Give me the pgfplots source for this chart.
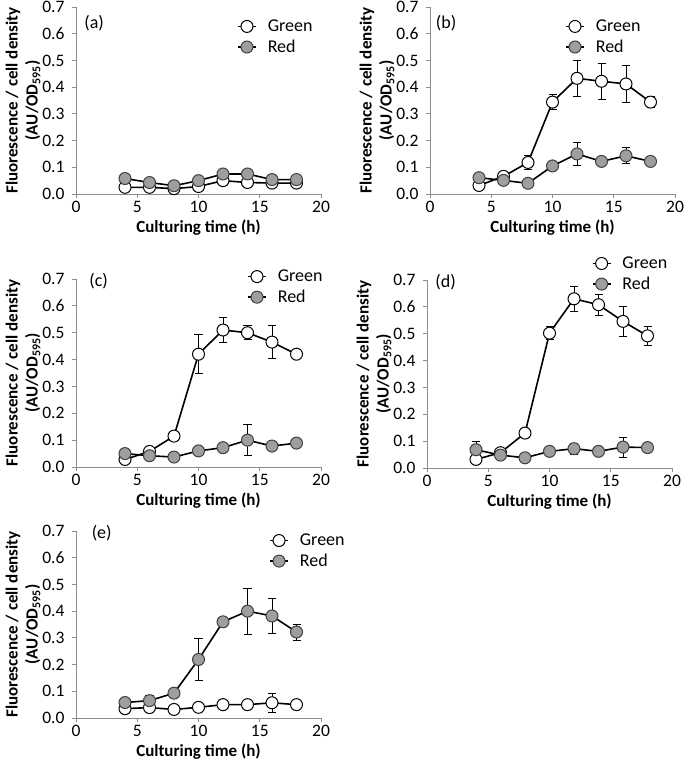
\documentclass[border=0pt]{standalone}
\usepackage{pgfplots}
\pgfplotsset{compat=1.18}
\usepackage{fontspec}
\setmainfont{Carlito}

\tikzset{tag/.style={anchor=west, font=\fontsize{18bp}{20bp}\selectfont}}
\pgfplotsset{
  panel/.style={
    scale only axis, width=245bp, height=187bp,
    anchor=south west,
    xmin=0, xmax=20, ymin=0, ymax=0.7,
    xtick={0,5,10,15,20},
    ytick={0,0.1,0.2,0.3,0.4,0.5,0.6,0.7},
    axis lines=left,
    axis line style={-, draw=black!45, line width=0.8bp},
    tick style={draw=black!45, line width=0.8bp},
    tick align=outside, major tick length=4bp,
    /pgf/number format/assume math mode=true,
    yticklabel style={xshift=-4bp, /pgf/number format/.cd, fixed, fixed zerofill, precision=1},
    xticklabel style={yshift=-1bp, inner ysep=2bp},
    ticklabel style={font=\fontsize{17.5bp}{19bp}\selectfont},
    xlabel={Culturing time (h)},
    ylabel={Fluorescence / cell density\\(AU/OD\textsubscript{595})},
    label style={font=\bfseries\fontsize{17bp}{20bp}\selectfont},
    xlabel style={at={(axis description cs:0.5,0)}, anchor=center, yshift=-34bp, inner ysep=1bp},
    ylabel style={at={(axis description cs:-0.216,0.5)}, anchor=center, align=center},
    legend style={draw=none, fill=none, anchor=west, inner sep=0pt, row sep=3bp,
      font=\fontsize{18bp}{20bp}\selectfont},
    legend cell align=left,
    legend image code/.code={\draw[##1, mark repeat=2, mark phase=2]
      plot coordinates {(0bp,0bp)(9bp,0bp)(18bp,0bp)};
      \path (27bp,0bp);},
    error bars/y dir=both, error bars/y explicit,
    error bars/error bar style={black, line width=0.8bp},
    error bars/error mark options={black, rotate=90, mark size=4bp, line width=0.8bp},
    clip=false,
  },
  green/.style={black, line width=1.6bp, mark=*, mark size=6bp,
    mark options={fill=white, draw=black, line width=1bp}},
  red/.style={black, line width=1.6bp, mark=*, mark size=6bp,
    mark options={fill=black!38, draw=black!75, line width=1bp}},
}

\begin{document}
\begin{tikzpicture}
\useasboundingbox (0,0) rectangle (685bp,-763bp);

% (a)
\begin{axis}[panel, at={(76bp,-194bp)}, legend style={at={(0.657,0.84)}}]
\addplot[green] coordinates {(4,0.025)(6,0.025)(8,0.02)(10,0.028)(12,0.05)(14,0.043)(16,0.041)(18,0.041)};
\addlegendentry{Green}
\addplot[red] coordinates {(4,0.058)(6,0.043)(8,0.031)(10,0.05)(12,0.075)(14,0.075)(16,0.054)(18,0.054)};
\addlegendentry{Red}
\node[tag] at (rel axis cs:0.02,0.914) {(a)};
\end{axis}

% (b)
\begin{axis}[panel, at={(430bp,-194bp)}, legend style={at={(0.551,0.84)}}]
\addplot[green] coordinates {(4,0.032) +- (0,0.005) (6,0.066) +- (0,0.008) (8,0.118) +- (0,0.026) (10,0.344) +- (0,0.027)
  (12,0.433) +- (0,0.067) (14,0.422) +- (0,0.068) (16,0.412) +- (0,0.07) (18,0.344) +- (0,0.02)};
\addlegendentry{Green}
\addplot[red] coordinates {(4,0.061) +- (0,0.004) (6,0.051) +- (0,0.004) (8,0.04) +- (0,0.004) (10,0.105) +- (0,0.005)
  (12,0.15) +- (0,0.043) (14,0.122) +- (0,0.005) (16,0.143) +- (0,0.03) (18,0.122) +- (0,0.005)};
\addlegendentry{Red}
\node[tag] at (rel axis cs:0.01,0.914) {(b)};
\end{axis}

% (c)
\begin{axis}[panel, at={(76bp,-467bp)}, height=188bp, legend style={at={(0.698,0.957)}}]
\addplot[green] coordinates {(4,0.028) +- (0,0.005) (6,0.058) +- (0,0.01) (8,0.115) +- (0,0.005) (10,0.42) +- (0,0.073)
  (12,0.51) +- (0,0.047) (14,0.50) +- (0,0.026) (16,0.465) +- (0,0.061) (18,0.42) +- (0,0.005)};
\addlegendentry{Green}
\addplot[red] coordinates {(4,0.05) +- (0,0.004) (6,0.042) +- (0,0.004) (8,0.037) +- (0,0.004) (10,0.06) +- (0,0.005)
  (12,0.072) +- (0,0.005) (14,0.10) +- (0,0.058) (16,0.078) +- (0,0.005) (18,0.089) +- (0,0.01)};
\addlegendentry{Red}
\node[tag] at (rel axis cs:0.04,0.99) {(c)};
\end{axis}

% (d)
\begin{axis}[panel, at={(427bp,-468bp)}, height=188bp, legend style={at={(0.672,1.032)}}]
\addplot[green] coordinates {(4,0.032) +- (0,0.005) (6,0.057) +- (0,0.005) (8,0.13) +- (0,0.005) (10,0.502) +- (0,0.025)
  (12,0.63) +- (0,0.046) (14,0.608) +- (0,0.04) (16,0.546) +- (0,0.057) (18,0.492) +- (0,0.035)};
\addlegendentry{Green}
\addplot[red] coordinates {(4,0.068) +- (0,0.03) (6,0.048) +- (0,0.005) (8,0.038) +- (0,0.004) (10,0.062) +- (0,0.005)
  (12,0.072) +- (0,0.02) (14,0.062) +- (0,0.004) (16,0.078) +- (0,0.037) (18,0.076) +- (0,0.004)};
\addlegendentry{Red}
\node[tag] at (rel axis cs:0.02,0.989) {(d)};
\end{axis}

% (e)
\begin{axis}[panel, at={(76bp,-718bp)}, legend style={at={(0.788,0.893)}}]
\addplot[green] coordinates {(4,0.035) +- (0,0.004) (6,0.039) +- (0,0.004) (8,0.032) +- (0,0.004) (10,0.04) +- (0,0.004)
  (12,0.05) +- (0,0.004) (14,0.05) +- (0,0.004) (16,0.057) +- (0,0.036) (18,0.05) +- (0,0.004)};
\addlegendentry{Green}
\addplot[red] coordinates {(4,0.058) +- (0,0.005) (6,0.065) +- (0,0.02) (8,0.093) +- (0,0.012) (10,0.219) +- (0,0.078)
  (12,0.36) +- (0,0.005) (14,0.40) +- (0,0.087) (16,0.382) +- (0,0.065) (18,0.322) +- (0,0.03)};
\addlegendentry{Red}
\node[tag] at (rel axis cs:0.05,0.99) {(e)};
\end{axis}
\end{tikzpicture}
\end{document}
